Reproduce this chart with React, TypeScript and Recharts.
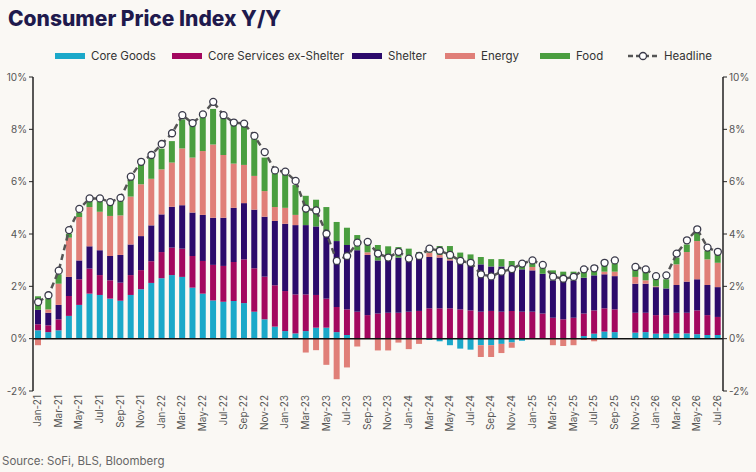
import React from "react";
import { ComposedChart, Bar, Line, XAxis, YAxis, ReferenceLine } from "recharts";

const months = [
  "Jan-21","Feb-21","Mar-21","Apr-21","May-21","Jun-21","Jul-21","Aug-21","Sep-21","Oct-21","Nov-21","Dec-21",
  "Jan-22","Feb-22","Mar-22","Apr-22","May-22","Jun-22","Jul-22","Aug-22","Sep-22","Oct-22","Nov-22","Dec-22",
  "Jan-23","Feb-23","Mar-23","Apr-23","May-23","Jun-23","Jul-23","Aug-23","Sep-23","Oct-23","Nov-23","Dec-23",
  "Jan-24","Feb-24","Mar-24","Apr-24","May-24","Jun-24","Jul-24","Aug-24","Sep-24","Oct-24","Nov-24","Dec-24",
  "Jan-25","Feb-25","Mar-25","Apr-25","May-25","Jun-25","Jul-25","Aug-25","Sep-25","Oct-25","Nov-25","Dec-25",
  "Jan-26","Feb-26","Mar-26","Apr-26","May-26","Jun-26","Jul-26",
];

const coreGoods = [
  0.32,0.25,0.32,0.87,1.29,1.72,1.67,1.53,1.45,1.67,1.89,2.13,
  2.31,2.43,2.36,1.95,1.72,1.46,1.41,1.44,1.36,1.03,0.74,0.46,
  0.29,0.2,0.29,0.42,0.42,0.25,0.14,0.02,0,0,0,0,
  0,0,-0.05,-0.1,-0.25,-0.38,-0.42,-0.25,-0.25,-0.2,-0.15,-0.08,
  0,0,0,0,0,0.1,0.19,0.27,0.25,null,0.23,0.25,
  0.19,0.19,0.2,0.2,0.17,0.14,0.14,
];
const coreServices = [
  0.23,0.26,0.42,0.76,0.98,0.96,0.76,0.7,0.69,0.76,0.73,0.83,
  1.0,1.05,1.08,1.21,1.25,1.36,1.37,1.49,1.67,1.66,1.63,1.58,
  1.53,1.49,1.4,1.25,1.11,0.96,0.98,1.01,0.9,0.96,0.99,0.99,
  1.03,1.06,1.16,1.16,1.16,1.12,1.08,1.03,1.06,1.03,1.06,1.03,
  1.03,0.96,0.8,0.74,0.8,0.86,0.89,0.89,0.87,null,0.76,0.74,
  0.71,0.71,0.79,0.79,0.91,0.76,0.69,
];
const shelter = [
  0.55,0.48,0.55,0.73,0.72,0.85,0.95,0.93,1.06,1.17,1.3,1.37,
  1.44,1.56,1.66,1.66,1.76,1.8,1.84,2.07,2.15,2.24,2.29,2.46,
  2.57,2.65,2.65,2.62,2.43,2.52,2.46,2.35,2.3,2.03,2.11,2.11,
  2.04,2.06,1.96,1.94,1.83,1.78,1.79,1.81,1.7,1.73,1.65,1.62,
  1.58,1.52,1.43,1.46,1.43,1.37,1.34,1.3,1.27,null,1.11,1.11,
  1.07,1.02,1.06,1.19,1.19,1.15,1.14,
];
const energy = [
  -0.25,0.13,0.81,1.5,1.66,1.5,1.47,1.53,1.51,1.83,1.98,1.78,
  1.72,1.69,2.17,2.1,2.44,2.8,2.4,1.69,1.46,1.29,0.98,0.53,
  0.61,0.39,-0.53,-0.44,-1.0,-1.55,-1.1,-0.3,0.1,-0.45,-0.45,-0.15,
  -0.4,-0.2,0.17,0.1,0.05,0,0,-0.45,-0.45,-0.35,-0.2,0,
  0.13,0,-0.25,-0.28,-0.25,-0.05,-0.1,0.1,0.17,null,0.26,0.13,
  0.03,0,0.79,1.13,1.46,0.98,0.93,
];
const food = [
  0.52,0.42,0.36,0.15,0.17,0.23,0.41,0.48,0.58,0.72,0.76,0.81,
  0.79,0.82,1.11,1.33,1.47,1.36,1.49,1.56,1.55,1.49,1.28,1.38,
  1.28,1.14,1.12,1.02,1.07,0.73,0.66,0.58,0.4,0.59,0.43,0.4,
  0.37,0.19,0.19,0.34,0.5,0.39,0.35,0.28,0.28,0.28,0.26,0.25,
  0.23,0.23,0.38,0.36,0.33,0.26,0.19,0.34,0.34,null,0.29,0.33,
  0.33,0.35,0.26,0.29,0.32,0.32,0.39,
];
const headline = [
  1.4,1.66,2.6,4.15,4.96,5.36,5.36,5.22,5.38,6.19,6.76,7.02,
  7.44,7.85,8.54,8.24,8.57,9.05,8.54,8.26,8.22,7.75,7.13,6.43,
  6.38,6.03,4.97,4.9,4.01,2.97,3.16,3.67,3.7,3.25,3.1,3.32,
  3.06,3.16,3.44,3.36,3.2,2.97,2.9,2.46,2.38,2.56,2.66,2.87,
  2.99,2.82,2.37,2.29,2.36,2.65,2.69,2.9,2.99,null,2.74,2.65,
  2.39,2.42,3.25,3.76,4.18,3.48,3.32,
];

const data = months.map((m, i) => ({
  m,
  cg: coreGoods[i],
  cs: coreServices[i],
  sh: shelter[i],
  en: energy[i],
  fd: food[i],
  hl: headline[i],
}));

const C = {
  cg: "#1ba8c9",
  cs: "#a3085f",
  sh: "#2c0a6b",
  en: "#e07f78",
  fd: "#4a9e3f",
  hl: "#555555",
};

const font = "Inter, 'Noto Sans', sans-serif";
const yTicks = [-2, 0, 2, 4, 6, 8, 10];

const legendItems = [
  { label: "Core Goods", color: C.cg, x: 55 },
  { label: "Core Services ex-Shelter", color: C.cs, x: 172 },
  { label: "Shelter", color: C.sh, x: 352 },
  { label: "Energy", color: C.en, x: 445 },
  { label: "Food", color: C.fd, x: 540 },
];

const Dot = (props: any) => {
  const { cx, cy, value } = props;
  if (value == null || cx == null || cy == null) return null;
  return <circle cx={cx} cy={cy} r={3.5} fill="#ffffff" stroke="#3a3a4a" strokeWidth={1.3} />;
};

export default function App() {
  return (
    <div style={{ position: "absolute", left: 0, top: 0, width: 756, height: 472, background: "#faf8f4", fontFamily: font, overflow: "hidden" }}>
      <div style={{ position: "absolute", left: 8, top: 6, fontSize: 21, fontWeight: 800, color: "#1f1a4d" }}>
        Consumer Price Index Y/Y
      </div>
      {legendItems.map((it) => (
        <div key={it.label} style={{ position: "absolute", left: it.x, top: 49, display: "flex", alignItems: "center", fontSize: 11.5, color: "#333" }}>
          <div style={{ width: 30, height: 6, background: it.color, marginRight: 6 }} />
          {it.label}
        </div>
      ))}
      <div style={{ position: "absolute", left: 628, top: 49, display: "flex", alignItems: "center", fontSize: 11.5, color: "#333" }}>
        <svg width={30} height={10} style={{ marginRight: 6 }}>
          <line x1={0} y1={5} x2={30} y2={5} stroke={C.hl} strokeWidth={2.5} strokeDasharray="5 3" />
          <circle cx={15} cy={5} r={3.5} fill="#fff" stroke="#3a3a4a" strokeWidth={1.3} />
        </svg>
        Headline
      </div>
      <div style={{ position: "absolute", left: 0, top: 0 }}>
        <ComposedChart width={756} height={472} data={data} stackOffset="sign" barSize={6}
          margin={{ top: 77, right: 0, bottom: 31, left: 0 }}>
          <XAxis dataKey="m" interval={1} angle={-90} textAnchor="end" height={50} axisLine={false} tickLine={false}
            tick={{ fontSize: 10, fill: "#555", fontFamily: font }} dy={-4} dx={-4} />
          <YAxis yAxisId="l" domain={[-2, 10]} ticks={yTicks} width={33} tickFormatter={(v) => `${v}%`}
            axisLine={{ stroke: "#222", strokeWidth: 1.5 }} tickLine={{ stroke: "#222" }} tickSize={4}
            tick={{ fontSize: 10, fill: "#555", fontFamily: font }} />
          <YAxis yAxisId="r" orientation="right" domain={[-2, 10]} ticks={yTicks} width={33} tickFormatter={(v) => `${v}%`}
            allowDataOverflow axisLine={{ stroke: "#222", strokeWidth: 1.5 }} tickLine={{ stroke: "#222" }} tickSize={4}
            tick={{ fontSize: 10, fill: "#555", fontFamily: font }} />
          <Bar yAxisId="l" dataKey="cg" stackId="a" fill={C.cg} isAnimationActive={false} />
          <Bar yAxisId="l" dataKey="cs" stackId="a" fill={C.cs} isAnimationActive={false} />
          <Bar yAxisId="l" dataKey="sh" stackId="a" fill={C.sh} isAnimationActive={false} />
          <Bar yAxisId="l" dataKey="en" stackId="a" fill={C.en} isAnimationActive={false} />
          <Bar yAxisId="l" dataKey="fd" stackId="a" fill={C.fd} isAnimationActive={false} />
          <ReferenceLine yAxisId="l" y={0} stroke="#111" strokeWidth={1.5} />
          <Line yAxisId="r" dataKey="hl" stroke={C.hl} strokeWidth={2.5} strokeDasharray="6 4" dot={<Dot />}
            connectNulls={false} isAnimationActive={false} />
        </ComposedChart>
      </div>
      <div style={{ position: "absolute", left: 2, top: 454, fontSize: 11.5, color: "#666" }}>
        Source: SoFi, BLS, Bloomberg
      </div>
    </div>
  );
}
